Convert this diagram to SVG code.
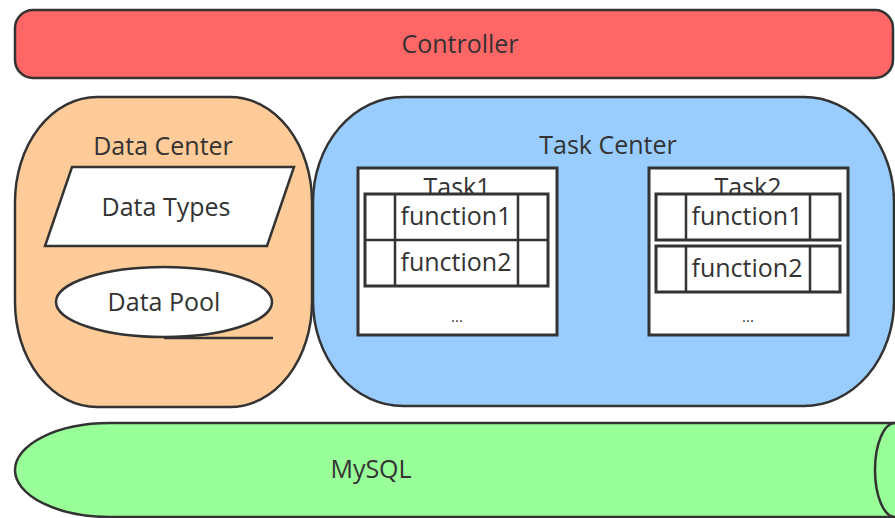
<svg xmlns="http://www.w3.org/2000/svg" width="895" height="518" viewBox="0 0 895 518">
<style>
text{font-family:"Open Sans","Noto Sans","Liberation Sans",sans-serif;font-size:25px;fill:#333;text-anchor:middle}
.s{stroke:#333;stroke-width:2.5}
.w{fill:#fff;stroke:#333;stroke-width:3}
.dots{font-size:15px}
</style>
<rect width="895" height="518" fill="#fff"/>
<g id="controller">
<rect class="s" x="15" y="10" width="878" height="68" rx="18" fill="#ff6666"/>
<text x="460" y="53">Controller</text>
</g>
<g id="task-center">
<rect class="s" x="313" y="97" width="581" height="309" rx="90" ry="105" fill="#99ccff"/>
<text x="608" y="154">Task Center</text>
</g>
<g id="data-center">
<rect class="s" x="15" y="97" width="297" height="310" rx="82" ry="105" fill="#ffcc99"/>
<text x="163" y="155">Data Center</text>
</g>
<g id="data-types">
<polygon class="s" points="72,167 294,167 267,246 45,246" fill="#fff"/>
<text x="166" y="216">Data Types</text>
</g>
<g id="data-pool">
<ellipse class="s" cx="164" cy="302" rx="108" ry="35" fill="#fff"/>
<line class="s" x1="164" y1="338" x2="273" y2="338"/>
<text x="164" y="311">Data Pool</text>
</g>
<g id="task1">
<rect class="w" x="358" y="168" width="199" height="167"/>
<text x="457" y="196">Task1</text>
<rect class="w" x="365" y="194" width="183" height="92"/>
<line class="s" x1="365" y1="240" x2="548" y2="240" stroke-width="3"/>
<line class="s" x1="395" y1="194" x2="395" y2="286" stroke-width="3"/>
<line class="s" x1="518" y1="194" x2="518" y2="286" stroke-width="3"/>
<text x="456" y="225">function1</text>
<text x="456" y="271">function2</text>
<text class="dots" x="457" y="322">...</text>
</g>
<g id="task2">
<rect class="w" x="649" y="168" width="199" height="167"/>
<text x="748" y="196">Task2</text>
<rect class="w" x="656" y="194" width="184" height="46"/>
<line class="s" x1="686" y1="194" x2="686" y2="240" stroke-width="3"/>
<line class="s" x1="810" y1="194" x2="810" y2="240" stroke-width="3"/>
<text x="747" y="225">function1</text>
<rect class="w" x="656" y="246" width="184" height="46"/>
<line class="s" x1="686" y1="246" x2="686" y2="292" stroke-width="3"/>
<line class="s" x1="810" y1="246" x2="810" y2="292" stroke-width="3"/>
<text x="747" y="277">function2</text>
<text class="dots" x="748" y="322">...</text>
</g>
<g id="mysql">
<path class="s" d="M110,423 L895,423 L895,517 L110,517 A95,47 0 0 1 110,423 Z" fill="#99ff99"/>
<ellipse class="s" cx="895" cy="470" rx="20" ry="47" fill="#99ff99"/>
<text x="371" y="478">MySQL</text>
</g>
<g id="connectors"/>
</svg>
